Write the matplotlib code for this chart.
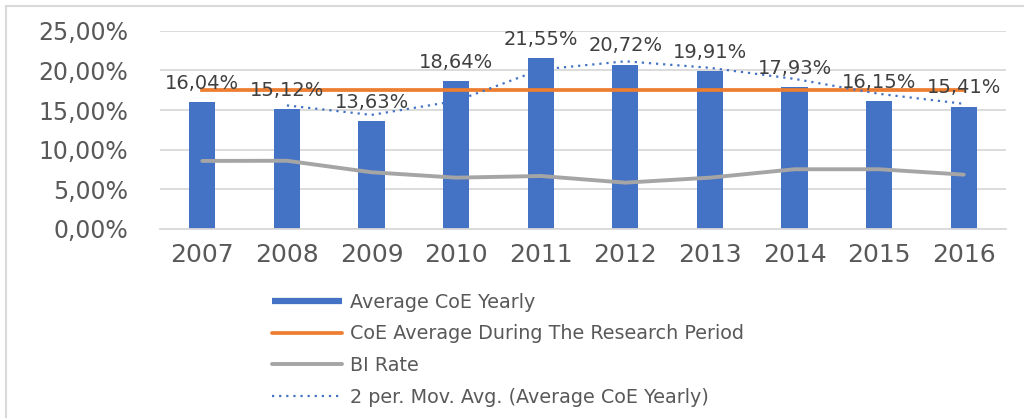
import numpy as np
import matplotlib
matplotlib.use("Agg")
import matplotlib.pyplot as plt
from matplotlib.lines import Line2D

plt.rcParams["font.family"] = ["DejaVu Sans"]

years = ["2007", "2008", "2009", "2010", "2011", "2012", "2013", "2014", "2015", "2016"]
coe_yearly = [16.04, 15.12, 13.63, 18.64, 21.55, 20.72, 19.91, 17.93, 16.15, 15.41]
coe_period_avg = [17.51] * 10
bi_rate = [8.58, 8.60, 7.15, 6.47, 6.68, 5.84, 6.47, 7.53, 7.53, 6.85]
# 2 per. moving average, starts at 2008
mov_avg = [15.58, 14.38, 16.14, 20.10, 21.14, 20.32, 18.92, 17.04, 15.78]

blue = "#4472C4"
orange = "#ED7D31"
grey = "#A5A5A5"
txt = "#595959"

fig = plt.figure(figsize=(10.24, 4.18), dpi=100)
ax = fig.add_axes([0.15625, 0.4522, 0.8262, 0.4744])

x = np.arange(len(years))
ax.bar(x, coe_yearly, width=0.31, color=blue, zorder=2)
ax.plot(x, coe_period_avg, color=orange, lw=2.7, zorder=3)
ax.plot(x, bi_rate, color=grey, lw=2.8, solid_joinstyle="round", solid_capstyle="round", zorder=3)
ax.plot(x[1:], mov_avg, color=blue, lw=1.6, linestyle=(0, (1, 2.2)), zorder=4)

for xi, v in zip(x, coe_yearly):
    ax.annotate(f"{v:.2f}%".replace(".", ","), (xi, v), xytext=(0, 13.5),
                textcoords="offset points", ha="center", va="center",
                fontsize=14, color="#404040", zorder=5)

ax.set_xlim(-0.5, len(years) - 0.5)
ax.set_ylim(0, 25)
ax.set_yticks([0, 5, 10, 15, 20, 25])
ax.set_yticklabels([f"{t:.2f}%".replace(".", ",") for t in [0, 5, 10, 15, 20, 25]])
ax.set_xticks(x)
ax.set_xticklabels(years)
ax.tick_params(axis="y", length=0, pad=23, labelsize=17, labelcolor=txt)
ax.tick_params(axis="x", length=0, pad=10, labelsize=18, labelcolor=txt)
ax.grid(axis="y", color="#D9D9D9", lw=1.3, zorder=0)
for s in ["top", "right", "left"]:
    ax.spines[s].set_visible(False)
ax.spines["bottom"].set_color("#D9D9D9")
ax.spines["bottom"].set_linewidth(1.3)

handles = [
    Line2D([], [], color=blue, lw=4.5, solid_capstyle="butt"),
    Line2D([], [], color=orange, lw=2.7, solid_capstyle="round"),
    Line2D([], [], color=grey, lw=2.8, solid_capstyle="round"),
    Line2D([], [], color=blue, lw=1.6, linestyle=(0, (1, 2.2))),
]
labels = ["Average CoE Yearly", "CoE Average During The Research Period",
          "BI Rate", "2 per. Mov. Avg. (Average CoE Yearly)"]
leg = fig.legend(handles, labels, loc="upper left", bbox_to_anchor=(0.2656, 0.30),
                 frameon=False, fontsize=13.8, handlelength=3.65, handletextpad=0.42,
                 labelspacing=0.66, borderpad=0, borderaxespad=0)
for t in leg.get_texts():
    t.set_color(txt)

# chart border (left and top edges visible)
fig.add_artist(Line2D([6 / 1024, 6 / 1024], [0, 1 - 6 / 418], color="#D9D9D9", lw=1.5))
fig.add_artist(Line2D([6 / 1024, 1], [1 - 6 / 418, 1 - 6 / 418], color="#D9D9D9", lw=1.5))

fig.savefig("out.png", dpi=100)
